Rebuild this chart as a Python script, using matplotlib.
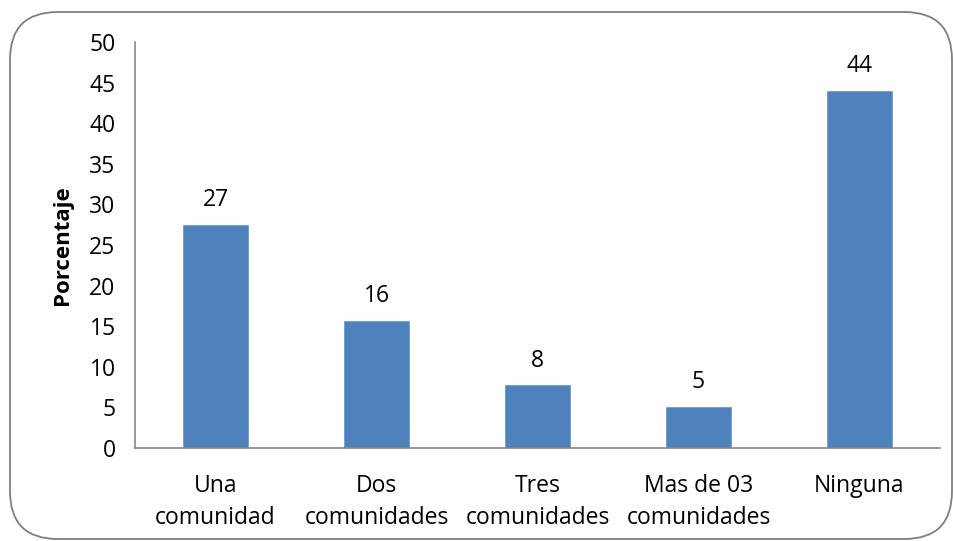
import numpy as np
import matplotlib
matplotlib.use("Agg")
import matplotlib.pyplot as plt
from matplotlib.patches import FancyBboxPatch

categories = ["Una\ncomunidad", "Dos\ncomunidades", "Tres\ncomunidades",
              "Mas de 03\ncomunidades", "Ninguna"]
values = [27.5, 15.7, 7.7, 5.1, 44.0]
value_labels = ["27", "16", "8", "5", "44"]
yticks = [0, 5, 10, 15, 20, 25, 30, 35, 40, 45, 50]

BAR = "#4F81BD"
AXIS = "#868686"
FS = 16.5
plt.rcParams["font.family"] = ["Open Sans", "DejaVu Sans"]

fig = plt.figure(figsize=(9.54, 5.41), dpi=100)
fig.patch.set_facecolor("white")

# rounded chart frame
frame = FancyBboxPatch((10 / 954, 2 / 541), 942 / 954, 527 / 541,
                       boxstyle="round,pad=0,rounding_size=0.05",
                       transform=fig.transFigure, fc="white", ec="#7f7f7f",
                       lw=1.3, mutation_aspect=954 / 541, zorder=-5)
fig.patches.append(frame)

ax = fig.add_axes([135 / 954, 93 / 541, 805 / 954, 406 / 541])
ax.set_facecolor("none")
x = np.arange(len(categories))
ax.bar(x, values, width=0.4, color=BAR, edgecolor="#6f9ad0", lw=0.6, zorder=2)
for xi, v, lab in zip(x, values, value_labels):
    ax.annotate(lab, (xi, v), xytext=(0, 9), textcoords="offset points",
                ha="center", va="bottom", fontsize=FS)

ax.set_xlim(-0.5, len(categories) - 0.5)
ax.set_ylim(0, 50)
ax.set_yticks(yticks)
ax.set_xticks(x)
ax.set_xticklabels(categories, fontsize=FS, linespacing=1.42)
ax.tick_params(axis="y", length=0, pad=14, labelsize=FS)
ax.tick_params(axis="x", length=0, pad=19)
for s in ["top", "right"]:
    ax.spines[s].set_visible(False)
for s in ["left", "bottom"]:
    ax.spines[s].set_color(AXIS)
    ax.spines[s].set_linewidth(1.2)
ax.set_ylabel("Porcentaje", fontsize=16, fontweight="bold", labelpad=12)

fig.savefig("out.png", dpi=100)
